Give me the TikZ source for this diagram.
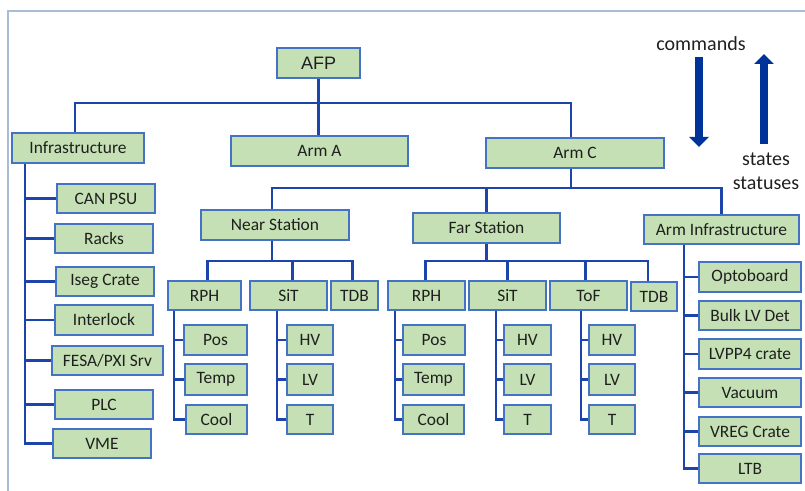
\documentclass[tikz,border=0pt]{standalone}
\usepackage{fontspec}
\setmainfont{Carlito}
\newfontfamily\arialfont{Liberation Sans}
\usetikzlibrary{arrows.meta,backgrounds}

\definecolor{boxfill}{RGB}{197,224,180}
\definecolor{boxline}{RGB}{68,114,196}
\definecolor{linkblue}{RGB}{28,68,170}
\definecolor{arrowblue}{RGB}{0,51,153}
\definecolor{framegray}{RGB}{169,189,212}

\tikzset{
  box/.style={draw=boxline, fill=boxfill, line width=1.2bp, inner sep=0pt, outer sep=0pt,
    font=\fontsize{17.4bp}{20bp}\selectfont, text=black!88},
  link/.style={draw=linkblue, line width=2.3bp},
  bigarrow/.style={draw=arrowblue, line width=8bp, -{Triangle[width=19bp,length=10bp]}},
  caption/.style={font=\fontsize{20bp}{24bp}\selectfont, text=black!88, align=center, inner sep=0pt}
}

% \tbox{name}{left}{top}{right}{bottom}{label}
\newcommand\tbox[6]{%
  \node[box, minimum width={(#4-#2)*1bp}, minimum height={(#5-#3)*1bp}]
    (#1) at ({(#2+#4)/2},{(#3+#5)/2}) {#6};}

\begin{document}
\begin{tikzpicture}[x=1bp,y=-1bp]
\useasboundingbox (0,0) rectangle (805,491);

% frame
\draw[framegray, line width=1.3bp] (8,491) -- (8,11) -- (805,11);

% bus levels
\coordinate (busTop) at (0,103);
\coordinate (busC) at (0,188);
\coordinate (busN) at (0,261);

% top level
\tbox{afp}{277}{48}{360}{78}{\arialfont\fontsize{18bp}{20bp}\selectfont AFP}
\tbox{infra}{12}{133}{144}{163}{Infrastructure}
\tbox{armA}{231}{136}{408}{166}{Arm A}
\tbox{armC}{486}{138}{664}{168}{Arm C}

% stations
\tbox{near}{201}{210}{349}{240}{Near Station}
\tbox{far}{413}{213}{560}{243}{Far Station}
\tbox{arminfra}{644}{215}{799}{244}{Arm Infrastructure}

% near station detectors
\tbox{nRPH}{168}{281}{241}{310}{RPH}
\tbox{nSiT}{250}{281}{327}{310}{SiT}
\tbox{nTDB}{331}{281}{378}{310}{TDB}
\tbox{nPos}{184}{325}{247}{355}{Pos}
\tbox{nTemp}{185}{364}{247}{395}{Temp}
\tbox{nCool}{186}{405}{247}{434}{Cool}
\tbox{nHV}{287}{325}{333}{355}{HV}
\tbox{nLV}{287}{364}{333}{395}{LV}
\tbox{nT}{287}{405}{333}{434}{T}

% far station detectors
\tbox{fRPH}{388}{281}{465}{310}{RPH}
\tbox{fSiT}{469}{281}{546}{310}{SiT}
\tbox{fToF}{550}{281}{627}{310}{ToF}
\tbox{fTDB}{631}{282}{677}{311}{TDB}
\tbox{fPos}{403}{325}{465}{355}{Pos}
\tbox{fTemp}{403}{364}{464}{395}{Temp}
\tbox{fCool}{403}{405}{464}{434}{Cool}
\tbox{fsHV}{504}{325}{551}{355}{HV}
\tbox{fsLV}{504}{364}{551}{395}{LV}
\tbox{fsT}{504}{405}{551}{434}{T}
\tbox{ftHV}{589}{325}{635}{355}{HV}
\tbox{ftLV}{589}{364}{635}{395}{LV}
\tbox{ftT}{589}{405}{635}{434}{T}

% general infrastructure
\tbox{canpsu}{57}{184}{155}{213}{CAN PSU}
\tbox{racks}{55}{224}{153}{253}{Racks}
\tbox{iseg}{56}{267}{154}{296}{Iseg Crate}
\tbox{interlock}{55}{305}{153}{335}{Interlock}
\tbox{fesa}{52}{346}{163}{375}{FESA/PXI Srv}
\tbox{plc}{55}{390}{153}{419}{PLC}
\tbox{vme}{53}{429}{151}{458}{VME}

% arm infrastructure
\tbox{opto}{699}{262}{801}{292}{Optoboard}
\tbox{bulk}{699}{301}{801}{330}{Bulk LV Det}
\tbox{lvpp}{699}{339}{801}{369}{LVPP4 crate}
\tbox{vacuum}{699}{378}{801}{407}{Vacuum}
\tbox{vreg}{699}{417}{801}{446}{VREG Crate}
\tbox{ltb}{699}{454}{801}{483}{LTB}

% connectors are drawn behind the boxes
\begin{scope}[on background layer]
% AFP to its children
\draw[link] (afp.south) |- ([xshift=-3bp]infra.north |- busTop) -- ([xshift=-3bp]infra.north);
\draw[link] (afp.south) -- (afp.south |- armA.north);
\draw[link] (afp.south) |- ([xshift=-4bp]armC.north |- busTop) -- ([xshift=-4bp]armC.north);

% Arm C to stations
\draw[link] ([xshift=-4bp]armC.south) |- ([xshift=-3bp]near.north |- busC) -- ([xshift=-3bp]near.north);
\draw[link] ([xshift=-4bp]armC.south) |- (far.north |- busC) -- (far.north);
\draw[link] ([xshift=-4bp]armC.south) |- (arminfra.north |- busC) -- (arminfra.north);

% Near station to detectors
\draw[link] ([xshift=-3bp]near.south) |- ([xshift=3bp]nRPH.north |- busN) -- ([xshift=3bp]nRPH.north);
\draw[link] ([xshift=-3bp]near.south) |- ([xshift=4bp]nSiT.north |- busN) -- ([xshift=4bp]nSiT.north);
\draw[link] ([xshift=-3bp]near.south) |- ([xshift=-2bp]nTDB.north |- busN) -- ([xshift=-2bp]nTDB.north);

% Far station to detectors
\draw[link] (far.south) |- ([xshift=-1bp]fRPH.north |- busN) -- ([xshift=-1bp]fRPH.north);
\draw[link] (far.south) |- (fSiT.north |- busN) -- (fSiT.north);
\draw[link] (far.south) |- ([xshift=-3bp]fToF.north |- busN) -- ([xshift=-3bp]fToF.north);
\draw[link] (far.south) |- ([xshift=-6bp]fTDB.north |- busN) -- ([xshift=-6bp]fTDB.north);

% trunks down the left side of parent boxes
\foreach \child in {canpsu,racks,iseg,interlock,fesa,plc,vme}
  \draw[link] ([xshift=13bp]infra.south west) |- (\child.west);
\foreach \child in {nPos,nTemp,nCool}
  \draw[link] ([xshift=6bp]nRPH.south west) |- (\child.west);
\foreach \child in {nHV,nLV,nT}
  \draw[link] ([xshift=27bp]nSiT.south west) |- (\child.west);
\foreach \child in {fPos,fTemp,fCool}
  \draw[link] ([xshift=7bp]fRPH.south west) |- (\child.west);
\foreach \child in {fsHV,fsLV,fsT}
  \draw[link] ([xshift=27bp]fSiT.south west) |- (\child.west);
\foreach \child in {ftHV,ftLV,ftT}
  \draw[link] ([xshift=31bp]fToF.south west) |- (\child.west);
\foreach \child in {opto,bulk,lvpp,vacuum,vreg,ltb}
  \draw[link] ([xshift=40bp]arminfra.south west) |- (\child.west);
\end{scope}

% command / status flow
\node[caption] (cmdlabel) at (701,44) {commands};
\node[caption] (statlabel) at (766,171) {states\\statuses};
\coordinate (cmdstart) at (699,57);
\coordinate (cmdend) at (699,147);
\coordinate (statstart) at (764,144);
\coordinate (statend) at (764,54);
\draw[bigarrow] (cmdstart) -- (cmdend);
\draw[bigarrow] (statstart) -- (statend);
\end{tikzpicture}
\end{document}
